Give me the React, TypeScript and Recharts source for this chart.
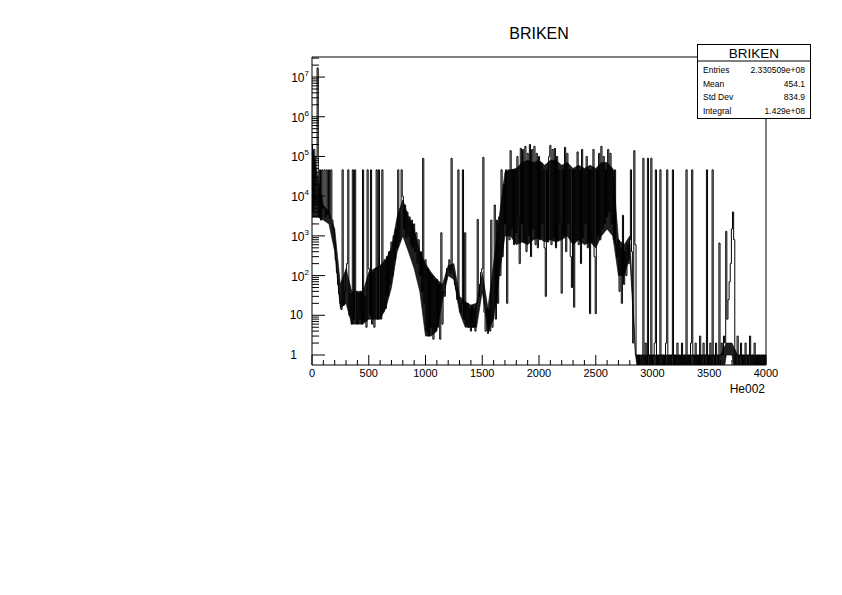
import { Area, ComposedChart, Line, ReferenceLine, XAxis, YAxis } from "recharts";

// BRIKEN He002 spectrum, one value per 10 channels
const binWidth = 10;
const counts: number[] = [
  // 0 - 990
  2e5, 4e3, 1.5e5, 6e3, 1e5, 1.7e7, 3e3, 4.6e4, 2.5e3, 4.6e4,
  5e3, 4.6e4, 3e3, 4.6e4, 3.5e3, 4.6e4, 2.8e3, 4.6e4, 2.5e3, 1.5e3,
  700, 250, 120, 60, 35, 20, 14, 4.6e4, 18, 40,
  120, 200, 4.6e4, 10, 35, 6, 4.6e4, 8, 4.6e4, 40,
  6, 35, 8, 40, 6, 4.6e4, 7, 30, 5, 4.6e4,
  150, 10, 4.6e4, 6, 120, 5, 140, 4.6e4, 8, 4.6e4,
  180, 8, 4.6e4, 12, 250, 15, 300, 30, 400, 60,
  700, 100, 1000, 250, 1500, 500, 4.6e4, 700, 5000, 4.6e4,
  1e4, 1500, 6000, 900, 4000, 1000, 3000, 600, 2500, 500,
  2000, 400, 1200, 200, 800, 100, 400, 40, 9e4, 20,
  // 1000 - 1990
  250, 4, 150, 3, 120, 5, 100, 2.5, 80, 4,
  80, 5, 60, 2.5, 1.2e3, 6, 40, 30, 80, 150,
  140, 250, 120, 9e4, 150, 110, 60, 45, 25, 4.6e4,
  20, 12, 20, 4.6e4, 8, 1.2e3, 6, 20, 5, 15,
  4, 18, 5, 15, 4, 20, 2.6e3, 30, 60, 120,
  150, 9.5e4, 12, 4, 15, 3.5, 14, 4, 2.5e3, 5,
  15, 6e3, 8, 2.5e3, 20, 3e3, 100, 4.6e4, 300, 2e4,
  2000, 4.6e4, 20, 4.6e4, 800, 1.4e5, 1500, 4.6e4, 600, 4.6e4,
  1200, 1e5, 3e3, 200, 1.6e5, 2e3, 1.5e5, 700, 1.8e5, 400,
  1.2e5, 1e3, 2e5, 300, 1.5e5, 1500, 1.8e5, 600, 1.2e5, 500,
  // 2000 - 2990
  1e5, 800, 7e4, 2e3, 4.6e4, 500, 30, 4.6e4, 700, 1e5,
  1.9e5, 600, 1.5e5, 900, 1.6e5, 500, 1e5, 800, 4.6e4, 2e3,
  36, 4.6e4, 1e3, 1.7e5, 400, 1.2e5, 2e3, 4.6e4, 300, 50,
  4.6e4, 16, 4.6e4, 800, 1.3e5, 600, 4.6e4, 200, 1.5e5, 900,
  4.6e4, 2e3, 1e5, 500, 4.6e4, 11, 4.6e4, 700, 1.5e5, 300,
  11, 4.6e4, 1e3, 1.2e5, 800, 1.8e5, 1500, 1e5, 2e3, 4.6e4,
  3e3, 1.5e5, 4e3, 1.2e5, 2e3, 4.6e4, 800, 4.6e4, 600, 300,
  800, 40, 500, 20, 3.3e3, 60, 400, 100, 600, 200,
  800, 4.6e4, 400, 2, 1.4e5, 600, 1, 0, 1, 0,
  0, 1, 9e4, 0, 2, 0, 9e4, 1, 0, 9e4,
  // 3000 - 3990
  0, 1, 2, 4.6e4, 0, 1, 0, 4.6e4, 1, 0,
  1, 0, 2, 4.6e4, 0, 1, 0, 1, 4.6e4, 0,
  1, 0, 2, 0, 1, 0, 2, 0, 1, 0,
  4.6e4, 0, 1, 0, 2, 4.6e4, 1, 0, 2, 0,
  1, 0, 3, 0, 1, 2, 0, 1, 4.6e4, 0,
  1, 2, 0, 4.6e4, 1, 0, 2, 1, 0, 660,
  1, 2, 1, 3, 2, 1.3e3, 8, 25, 70, 200,
  1.5e3, 4e3, 800, 0, 1, 3, 0, 1, 2, 0,
  1, 0, 2, 1, 0, 1, 3, 0, 1, 0,
  2, 0, 1, 0, 1, 0, 1, 0, 1, 0,
];

// spread of the dense bin-to-bin fluctuation, every 50 channels (0 - 4000)
const bandStep = 50;
const bandLow: number[] = [
  3e3, 3e3, 2.5e3, 2e3, 400, 15, 20, 6, 6, 6,
  8, 8, 8, 15, 50, 400, 1000, 400, 150, 40,
  3, 3, 4, 25, 100, 80, 12, 5, 5, 5,
  40, 4, 8, 100, 1000, 1000, 600, 700, 600, 800,
  900, 700, 800, 700, 800, 1000, 600, 800, 600, 700,
  500, 1000, 1500, 1000, 100, 100, 300, 1, 0, 0,
  0, 0, 0, 0, 0, 0, 0, 0, 0, 0,
  0, 0, 0, 1, 1, 0, 0, 0, 0, 0,
  0,
];
const bandHigh: number[] = [
  2e5, 3e4, 6e3, 4e3, 1.5e3, 60, 150, 40, 40, 40,
  120, 150, 180, 250, 500, 3000, 8000, 3000, 1500, 400,
  200, 120, 80, 60, 180, 200, 30, 22, 18, 20,
  120, 15, 200, 3000, 4e4, 4.6e4, 5e4, 7e4, 8e4, 7e4,
  8e4, 6e4, 8e4, 8e4, 6e4, 7e4, 5e4, 6e4, 5e4, 6e4,
  5e4, 7e4, 7e4, 5e4, 800, 600, 1000, 1, 1, 1,
  1, 1, 1, 1, 1, 1, 1, 1, 1, 1,
  1, 1, 1, 2, 2, 1, 1, 1, 1, 1,
  1,
];

const xMajorTicks = [0, 500, 1000, 1500, 2000, 2500, 3000, 3500, 4000];
const yMajorTicks = [1, 10, 100, 1e3, 1e4, 1e5, 1e6, 1e7];

const statsRows: Array<[string, string]> = [
  ["Entries", "2.330509e+08"],
  ["Mean", "454.1"],
  ["Std Dev", "834.9"],
  ["Integral", "1.429e+08"],
];

const Y_MIN = 0.56;
const Y_MAX = 3.2e7;

// empty bins sit below the log axis and get clipped at the frame
const floor = (v: number) => (v > 0 ? v : 0.1);
const data = counts.map((c, i) => ({ x: i * binWidth, y: floor(c) }));
const bandData = bandLow.map((lo, i) => ({
  x: i * bandStep,
  band: [floor(lo), floor(bandHigh[i])],
}));

const xTicks: number[] = [];
for (let v = 0; v <= 4000; v += 100) xTicks.push(v);

const yTicks: number[] = [];
yMajorTicks.forEach((d) => {
  for (let m = 1; m <= 9; m++) {
    const v = d * m;
    if (v <= Y_MAX) yTicks.push(v);
  }
});

const font = "'Liberation Sans', Arial, Helvetica, sans-serif";

const XTick = (props: any) => {
  const { x, y, payload } = props;
  const major = xMajorTicks.includes(payload.value);
  return (
    <g>
      <line x1={x} y1={y} x2={x} y2={y - (major ? 10 : 5)} stroke="#000" />
      {major && (
        <text x={x} y={y + 12} textAnchor="middle" fontSize={11} fontFamily={font} fill="#000">
          {payload.value}
        </text>
      )}
    </g>
  );
};

const YTick = (props: any) => {
  const { x, y, payload } = props;
  const v: number = payload.value;
  const exp = Math.round(Math.log10(v));
  const major = Math.abs(Math.log10(v) - exp) < 1e-6;
  let label = null;
  if (major) {
    if (exp === 0) {
      label = (
        <text x={x - 15} y={y + 4} textAnchor="end" fontSize={12} fontFamily={font}>1</text>
      );
    } else if (exp === 1) {
      label = (
        <text x={x - 9} y={y + 4} textAnchor="end" fontSize={12} fontFamily={font}>10</text>
      );
    } else {
      label = (
        <text x={x - 3} y={y + 5} textAnchor="end" fontSize={12} fontFamily={font}>
          10
          <tspan dy={-6} fontSize={8}>{exp}</tspan>
        </text>
      );
    }
  }
  return (
    <g>
      <line x1={x} y1={y} x2={x + (major ? 13 : 7)} y2={y} stroke="#000" />
      {label}
    </g>
  );
};

export default function App() {
  return (
    <div
      style={{
        position: "absolute",
        left: 0,
        top: 0,
        width: 842,
        height: 595,
        background: "#fff",
        fontFamily: font,
      }}
    >
      <style>{"body{margin:0}"}</style>
      <ComposedChart
        width={842}
        height={595}
        data={data}
        margin={{ top: 57, right: 76, bottom: 229, left: 311 }}
      >
        <XAxis
          dataKey="x"
          type="number"
          domain={[0, 4000]}
          ticks={xTicks}
          interval={0}
          height={1}
          tickSize={0}
          tickMargin={0}
          tickLine={false}
          tick={<XTick />}
          axisLine={{ stroke: "#000" }}
        />
        <YAxis
          type="number"
          scale="log"
          domain={[Y_MIN, Y_MAX]}
          allowDataOverflow
          ticks={yTicks}
          interval={0}
          width={1}
          tickSize={0}
          tickMargin={0}
          tickLine={false}
          tick={<YTick />}
          axisLine={{ stroke: "#000" }}
        />
        <ReferenceLine x={4000} stroke="#000" />
        <ReferenceLine y={Y_MAX} stroke="#000" />
        <Area
          data={bandData}
          dataKey="band"
          type="linear"
          stroke="#000"
          strokeWidth={0.6}
          fill="#000"
          fillOpacity={0.88}
          isAnimationActive={false}
        />
        <Line
          dataKey="y"
          type="step"
          stroke="#000"
          strokeWidth={1}
          dot={false}
          isAnimationActive={false}
        />
      </ComposedChart>
      <svg
        width={842}
        height={595}
        style={{ position: "absolute", left: 0, top: 0, pointerEvents: "none" }}
        fontFamily={font}
      >
        <text x={539} y={39} textAnchor="middle" fontSize={16}>BRIKEN</text>
        <text x={765} y={393} textAnchor="end" fontSize={12}>He002</text>
        <rect x={697.5} y={44.5} width={113} height={74} fill="#fff" stroke="#000" />
        <line x1={697.5} y1={61} x2={810.5} y2={61} stroke="#000" />
        <text x={754} y={58} textAnchor="middle" fontSize={13.5}>BRIKEN</text>
        {statsRows.map(([k, v], i) => (
          <g key={k}>
            <text x={703} y={73 + i * 13.5} fontSize={8.5}>{k}</text>
            <text x={805} y={73 + i * 13.5} fontSize={8.5} textAnchor="end">{v}</text>
          </g>
        ))}
      </svg>
    </div>
  );
}
